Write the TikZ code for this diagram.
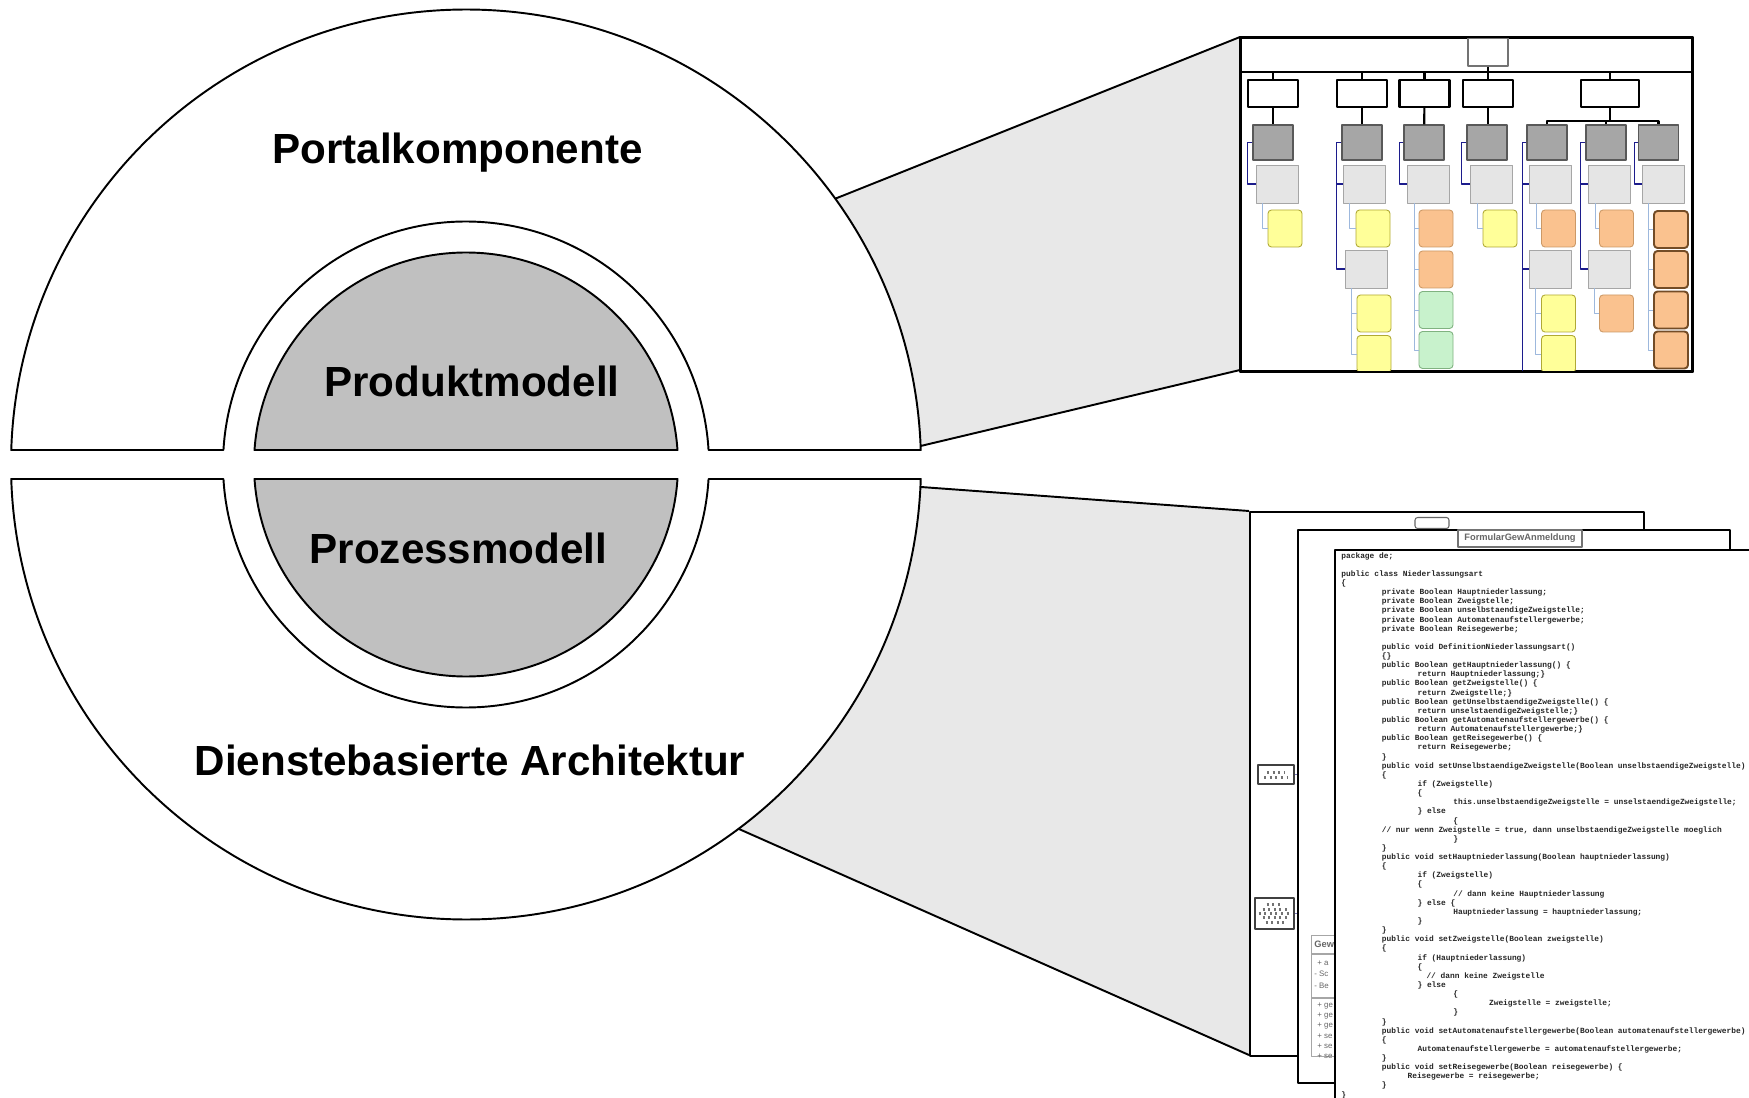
\documentclass[tikz,border=0pt]{standalone}
\usepackage{fontspec}
\setmainfont{Liberation Sans}
\newfontfamily\codefont{Liberation Mono}
\usetikzlibrary{calc,positioning}
\definecolor{callout}{HTML}{E8E8E8}
\definecolor{kern}{HTML}{C0C0C0}
\definecolor{navy}{HTML}{1C1C8C}
\definecolor{sublink}{HTML}{9DB8DD}
\definecolor{ytask}{HTML}{FFFF99}
\definecolor{otask}{HTML}{FAC28F}
\definecolor{gtask}{HTML}{C8F2CC}
\newcommand{\pxu}{0.02cm}
\newcommand{\ind}[1]{\hspace*{#1\dimexpr0.715cm\relax}}

\begin{document}
\begin{tikzpicture}[x=0.02cm, y=-0.02cm, line join=round]
\tikzstyle{ring}=[draw, line width=1.1pt, fill=white]
\tikzstyle{core}=[draw, line width=1.1pt, fill=kern]
\tikzstyle{edge}=[line width=1.1pt]
\tikzstyle{lbl}=[font=\bfseries\fontsize{24}{29}\selectfont, anchor=base, inner sep=0]
\tikzstyle{frame}=[draw, line width=1.1pt, fill=white, anchor=north west, inner sep=0]
\tikzstyle{lvone}=[draw, line width=1.3pt, fill=white, minimum width=50*\pxu, minimum height=27*\pxu, inner sep=0]
\tikzstyle{lvtwo}=[draw=black!65, line width=0.8pt, fill=black!35, minimum width=40*\pxu, minimum height=35*\pxu, inner sep=0]
\tikzstyle{lvthree}=[draw=black!35, line width=0.5pt, fill=black!10, minimum width=42*\pxu, minimum height=38*\pxu, inner sep=0]
\tikzstyle{task}=[rounded corners=2pt, line width=0.5pt, minimum width=34*\pxu, minimum height=37*\pxu, inner sep=0]
\tikzstyle{yel}=[task, draw=olive!70, fill=ytask]
\tikzstyle{ora}=[task, draw=brown!80, fill=otask]
\tikzstyle{orb}=[task, draw=brown!60!black, line width=1.1pt, fill=otask]
\tikzstyle{grn}=[task, draw=green!40!black!50, fill=gtask]
\tikzstyle{tree}=[line width=1.2pt]
\tikzstyle{nav}=[draw=navy, line width=0.9pt]
\tikzstyle{sub}=[draw=sublink, line width=0.4pt]
\tikzstyle{code}=[anchor=north west, inner sep=0, align=left, text=black!85, font={\codefont\bfseries\fontsize{4.48}{5.2}\selectfont}]
\tikzstyle{uml}=[anchor=west, inner sep=0, text=black!60, font={\fontsize{4.5}{5}\selectfont}]

\useasboundingbox (0,0) rectangle (1749,1098);
\fill[white] (0,0) rectangle (1749,1098);

\coordinate (c) at (466,464.5);
\coordinate (orgNW) at (1240,37);
\coordinate (orgSW) at (1240,370);
\coordinate (p1NW) at (1249,511);
\coordinate (p1SW) at (1249,1055);
\coordinate (u1) at ($(c)+(-35.75:455)$);
\coordinate (u2) at ($(c)+(-2.33:455)$);
\coordinate (l1) at ($(c)+(2.83:455)$);
\coordinate (l2) at ($(c)+(53.2:455)$);

% zoom wedges
\fill[callout] (u1) -- (orgNW) -- (orgSW) -- (u2) -- cycle;
\fill[callout] (l1) -- (p1NW) -- (p1SW) -- (l2) -- cycle;
\draw[edge] (u1) -- (orgNW);
\draw[edge] (u2) -- (orgSW);
\draw[edge] (l1) -- (p1NW);
\draw[edge] (l2) -- (p1SW);

% the split circle
\draw[ring] ($(c)+(-1.826:455)$) arc[start angle=-1.826, end angle=-178.174, radius=455]
  -- ($(c)+(-176.58:243)$) arc[start angle=-176.58, end angle=-3.42, radius=243] -- cycle;
\draw[ring] ($(c)+(1.826:455)$) arc[start angle=1.826, end angle=178.174, radius=455]
  -- ($(c)+(176.58:243)$) arc[start angle=176.58, end angle=3.42, radius=243] -- cycle;
\draw[core] ($(c)+(-3.92:212)$) arc[start angle=-3.92, end angle=-176.08, radius=212] -- cycle;
\draw[core] ($(c)+(3.92:212)$) arc[start angle=3.92, end angle=176.08, radius=212] -- cycle;

\node[lbl] (portal) at (457.5,164) {Portalkomponente};
\node[lbl] (produkt) at (472,397) {Produktmodell};
\node[lbl] (prozess) at (458.5,563) {Prozessmodell};
\node[lbl] (dienste) at (470,775) {Dienstebasierte Architektur};

% product model thumbnail
\node[frame, minimum width=451*\pxu, minimum height=333*\pxu] (org) at (orgNW) {};
\begin{scope}
\clip (org.north west) rectangle (org.south east);
\coordinate (sep) at ($(org.north west)+(0,35)$);
\draw[line width=0.9pt] (sep) -- (sep -| org.east);
\node[draw=black!55, line width=0.9pt, fill=white, minimum width=40*\pxu, minimum height=28*\pxu] (top) at (1488,52) {};

\node[lvone] (a1) at (1273,93.5) {};
\node[lvone] (b1) at (1362,93.5) {};
\node[lvone] (c1) at (1424.5,93.5) {};
\node[lvone] (d1) at (1488,93.5) {};
\node[lvone, minimum width=58*\pxu] (e1) at (1610,93.5) {};
\draw[tree] (top.south) -- (d1.north);
\draw[tree] (a1.north) -- (a1.north |- sep);
\draw[tree] (b1.north) -- (b1.north |- sep);
\draw[tree] (c1.north) -- (c1.north |- sep);
\draw[tree] (e1.north) -- (e1.north |- sep);

\node[lvtwo] (a2) at (1273,142.5) {};
\node[lvtwo] (b2) at (1362,142.5) {};
\node[lvtwo] (c2) at (1424,142.5) {};
\node[lvtwo] (d2) at (1487,142.5) {};
\node[lvtwo] (e2a) at (1547,142.5) {};
\node[lvtwo] (e2b) at (1606,142.5) {};
\node[lvtwo] (e2c) at (1658.5,142.5) {};
\draw[tree] (a1) -- (a2);
\draw[tree] (b1) -- (b2);
\draw[tree] (c1) -- (c2);
\draw[tree] (d1.south) -- (d1.south |- d2.north);
\draw[tree] (e1.south) -- ++(0,12.5) coordinate (ebar);
\draw[tree] (e2a.north) |- (ebar) -| (e2c.north);
\draw[tree] (e2b.north) -- (e2b.north |- ebar);

\node[lvthree] (a3) at (1277.5,184) {};
\node[lvthree] (b3) at (1364,184) {};
\node[lvthree] (c3) at (1428.5,184) {};
\node[lvthree] (d3) at (1491.5,184) {};
\node[lvthree] (e3a) at (1550.5,184) {};
\node[lvthree] (e3b) at (1609.5,184) {};
\node[lvthree] (e3c) at (1663.5,184) {};
\node[lvthree] (b4) at (1366,269) {};
\node[lvthree] (e4a) at (1550,269) {};
\node[lvthree] (e4b) at (1609,269) {};

\draw[nav] (a2.west) -- ++(-5,0) |- (a3.west);
\draw[nav] (b2.west) -- ++(-5,0) coordinate (bb) |- (b3.west) (bb) |- (b4.west);
\draw[nav] (c2.west) -- ++(-4,0) |- (c3.west);
\draw[nav] (d2.west) -- ++(-5,0) |- (d3.west);
\draw[nav] (e2a.west) -- ++(-4,0) coordinate (ea) |- (e3a.west) (ea) |- (e4a.west) (ea) -- (ea |- org.south);
\draw[nav] (e2b.west) -- ++(-5,0) coordinate (eb) |- (e3b.west) (eb) |- (e4b.west);
\draw[nav] (e2c.west) -- ++(-3.5,0) |- (e3c.west);

\node[yel] (ya) at (1285,228.5) {};
\node[yel] (yb1) at (1373,228.5) {};
\node[yel] (yb2) at (1374,313.5) {};
\node[yel] (yb3) at (1374,354) {};
\node[ora] (oc1) at (1436,228.5) {};
\node[ora] (oc2) at (1436,269.5) {};
\node[grn] (gc1) at (1436,310) {};
\node[grn] (gc2) at (1436,350) {};
\node[yel] (yd) at (1500,228.5) {};
\node[ora] (oe1) at (1558.5,228.5) {};
\node[yel] (ye1) at (1558.5,313.5) {};
\node[yel] (ye2) at (1558.5,354) {};
\node[ora] (of1) at (1616.5,228.5) {};
\node[ora] (of2) at (1616.5,313.5) {};
\node[orb] (og1) at (1671,229.5) {};
\node[orb] (og2) at (1671,269.5) {};
\node[orb] (og3) at (1671,310) {};
\node[orb] (og4) at (1671,350) {};

\draw[sub] (a3.south west) ++(6,0) |- (ya.west);
\draw[sub] (b3.south west) ++(7,0) |- (yb1.west);
\draw[sub] (b4.south west) ++(7,0) coordinate (sb) |- (yb2.west) (sb) |- (yb3.west);
\draw[sub] (c3.south west) ++(7,0) coordinate (sc) |- (oc1.west) (sc) |- (oc2.west) (sc) |- (gc1.west) (sc) |- (gc2.west);
\draw[sub] (d3.south west) ++(7,0) |- (yd.west);
\draw[sub] (e3a.south west) ++(7,0) |- (oe1.west);
\draw[sub] (e4a.south west) ++(7,0) coordinate (se) |- (ye1.west) (se) |- (ye2.west);
\draw[sub] (e3b.south west) ++(7,0) |- (of1.west);
\draw[sub] (e4b.south west) ++(7,0) |- (of2.west);
\draw[sub] (e3c.south west) ++(6,0) coordinate (sg) |- (og1.west) (sg) |- (og2.west) (sg) |- (og3.west) (sg) |- (og4.west);
\end{scope}
\draw[line width=1.1pt] (org.north west) rectangle (org.south east);

% process model windows
\node[frame, minimum width=394*\pxu, minimum height=544*\pxu] (p1) at (p1NW) {};
\node[draw=black!60, fill=white, rounded corners=1.5pt, line width=0.6pt, minimum width=34*\pxu, minimum height=11*\pxu, inner sep=0] (tab) at (1432,523) {};
\node[draw=black!75, fill=white, line width=1pt, minimum width=36*\pxu, minimum height=19*\pxu, inner sep=0] (ico1) at (1276,774.5) {};
\draw[black!55, line width=1.2pt, dotted] ($(ico1.center)+(-9,-2)$) -- ($(ico1.center)+(9,-2)$);
\draw[black!55, line width=1.2pt, dotted] ($(ico1.center)+(-12,3)$) -- ($(ico1.center)+(12,3)$);
\node[draw=black!75, fill=white, line width=1pt, minimum width=39*\pxu, minimum height=31*\pxu, inner sep=0] (ico2) at (1274.5,913.5) {};
\foreach \dy/\w in {-9/8, -4/12, 0/16, 4/12, 9/9}
  \draw[black!55, line width=1.2pt, dotted] ($(ico2.center)+(-\w,\dy)$) -- ($(ico2.center)+(\w,\dy)$);
\draw[navy!60, line width=0.3pt] (ico1.east) -- ++(5,0);
\draw[navy!60, line width=0.3pt] (ico2.east) -- ++(5,0);

\node[frame, minimum width=432*\pxu, minimum height=553*\pxu] (p2) at (1297,529) {};
\node[draw=black!55, fill=white, line width=1pt, minimum width=124*\pxu, minimum height=17*\pxu, inner sep=0,
  text=black!60, font={\bfseries\fontsize{5.3}{6}\selectfont}] (form) at (1520,538.5) {FormularGewAnmeldung};
\node[draw=black!35, fill=white, line width=0.6pt, anchor=north west, minimum width=40*\pxu, minimum height=121*\pxu, inner sep=0] (gew) at (1311,935) {};
\draw[black!35, line width=0.6pt] ($(gew.north west)+(0,19)$) -- ++(40,0);
\draw[black!35, line width=0.6pt] ($(gew.north west)+(0,63)$) -- ++(40,0);
\node[uml, font={\bfseries\fontsize{5.3}{6}\selectfont}] (gewhd) at (1314,944.5) {Gew};
\node[uml] (g1) at (1317,963) {+ a};
\node[uml] (g2) at (1314,974) {- Sc};
\node[uml] (g3) at (1314,986) {- Be};
\node[uml] (g4) at (1317,1006) {+ ge};
\node[uml] (g5) at (1317,1016) {+ ge};
\node[uml] (g6) at (1317,1026) {+ ge};
\node[uml] (g7) at (1317,1036) {+ se};
\node[uml] (g8) at (1317,1046) {+ se};
\node[uml] (g9) at (1317,1056) {+ se};

\node[frame, minimum width=440*\pxu, minimum height=580*\pxu] (p3) at (1334,549) {};
\node[code] (src) at (1341,552) {%
package de;\\
\mbox{}\\
public class Niederlassungsart\\
\{\\
\ind1 private Boolean Hauptniederlassung;\\
\ind1 private Boolean Zweigstelle;\\
\ind1 private Boolean unselbstaendigeZweigstelle;\\
\ind1 private Boolean Automatenaufstellergewerbe;\\
\ind1 private Boolean Reisegewerbe;\\
\mbox{}\\
\ind1 public void DefinitionNiederlassungsart()\\
\ind1 \{\}\\
\ind1 public Boolean getHauptniederlassung() \{\\
\ind2 return Hauptniederlassung;\}\\
\ind1 public Boolean getZweigstelle() \{\\
\ind2 return Zweigstelle;\}\\
\ind1 public Boolean getUnselbstaendigeZweigstelle() \{\\
\ind2 return unselstaendigeZweigstelle;\}\\
\ind1 public Boolean getAutomatenaufstellergewerbe() \{\\
\ind2 return Automatenaufstellergewerbe;\}\\
\ind1 public Boolean getReisegewerbe() \{\\
\ind2 return Reisegewerbe;\\
\ind1 \}\\
\ind1 public void setUnselbstaendigeZweigstelle(Boolean unselbstaendigeZweigstelle)\\
\ind1 \{\\
\ind2 if (Zweigstelle)\\
\ind2 \{\\
\ind3 this.unselbstaendigeZweigstelle = unselstaendigeZweigstelle;\\
\ind2 \} else\\
\ind3 \{\\
\ind1 // nur wenn Zweigstelle = true, dann unselbstaendigeZweigstelle moeglich\\
\ind3 \}\\
\ind1 \}\\
\ind1 public void setHauptniederlassung(Boolean hauptniederlassung)\\
\ind1 \{\\
\ind2 if (Zweigstelle)\\
\ind2 \{\\
\ind3 // dann keine Hauptniederlassung\\
\ind2 \} else \{\\
\ind3 Hauptniederlassung = hauptniederlassung;\\
\ind2 \}\\
\ind1 \}\\
\ind1 public void setZweigstelle(Boolean zweigstelle)\\
\ind1 \{\\
\ind2 if (Hauptniederlassung)\\
\ind2 \{\\
\ind{2.25} // dann keine Zweigstelle\\
\ind2 \} else\\
\ind3 \{\\
\ind4 Zweigstelle = zweigstelle;\\
\ind3 \}\\
\ind1 \}\\
\ind1 public void setAutomatenaufstellergewerbe(Boolean automatenaufstellergewerbe)\\
\ind1 \{\\
\ind2 Automatenaufstellergewerbe = automatenaufstellergewerbe;\\
\ind1 \}\\
\ind1 public void setReisegewerbe(Boolean reisegewerbe) \{\\
\ind{1.72} Reisegewerbe = reisegewerbe;\\
\ind1 \}\\
\}};
\end{tikzpicture}
\end{document}
